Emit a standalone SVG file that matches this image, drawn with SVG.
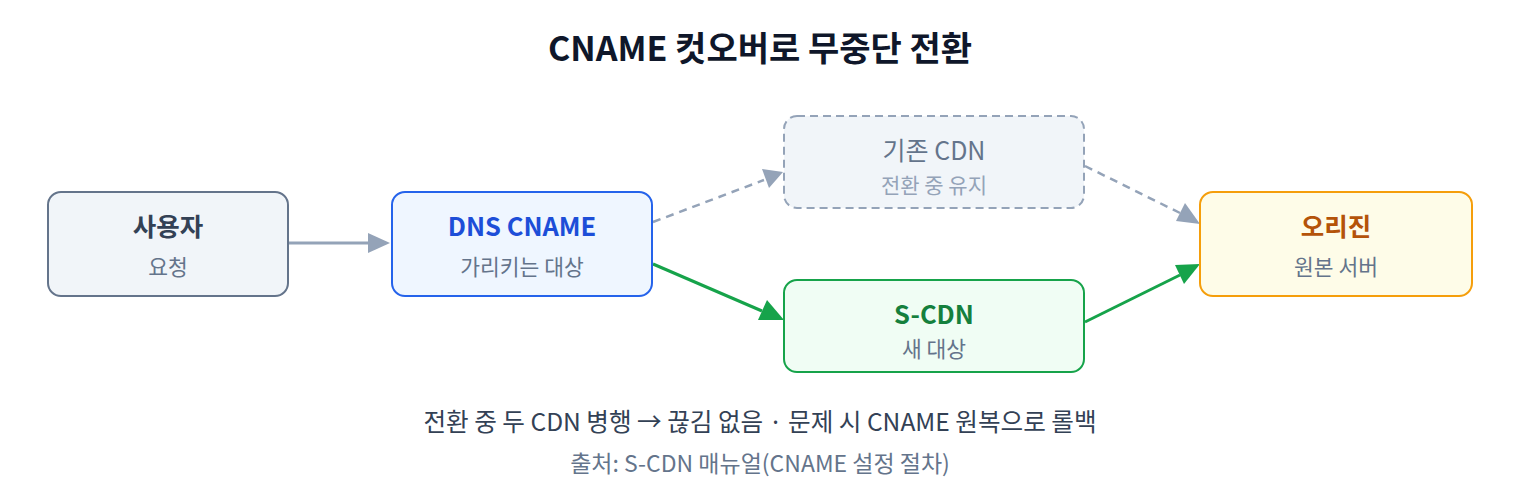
<svg xmlns="http://www.w3.org/2000/svg" width="1520" height="500" viewBox="0 0 1520 500">
<style>
text{font-family:"Noto Sans CJK KR","Noto Sans",sans-serif;text-anchor:middle}
.t{font-size:25.5px;font-weight:700}
.s{font-size:21.5px;fill:#64748b}
.box{stroke-width:2}
.gray{stroke:#94a3b8;stroke-width:3;fill:none}
.dash{stroke:#94a3b8;stroke-width:2.5;fill:none;stroke-dasharray:8 6}
.green{stroke:#16a34a;stroke-width:3;fill:none}
</style>
<rect width="1520" height="500" fill="#ffffff"/>
<text x="760" y="61" style="font-size:34px;font-weight:700;fill:#0f172a">CNAME 컷오버로 무중단 전환</text>
<g id="connectors">
<line x1="289" y1="243" x2="368" y2="243" class="gray"/>
<path d="M368,233L390,243L368,253z" fill="#94a3b8"/>
<line x1="653" y1="222" x2="764" y2="180" class="dash"/>
<path d="M762,169L783,172L769,188z" fill="#94a3b8"/>
<line x1="1085" y1="166" x2="1180" y2="213" class="dash"/>
<path d="M1185,203L1200,224L1176,221z" fill="#94a3b8"/>
<line x1="653" y1="264" x2="762" y2="311" class="green"/>
<path d="M767,300L784,320L758,320z" fill="#16a34a"/>
<line x1="1085" y1="322" x2="1180" y2="275" class="green"/>
<path d="M1175,265L1200,264L1184,284z" fill="#16a34a"/>
</g>
<g id="user">
<rect x="48" y="192" width="240" height="104" rx="13" fill="#f1f5f9" stroke="#64748b" class="box"/>
<text x="168" y="236" class="t" fill="#334155">사용자</text>
<text x="168" y="275" class="s">요청</text>
</g>
<g id="dns">
<rect x="392" y="192" width="260" height="104" rx="13" fill="#eff6ff" stroke="#2563eb" class="box"/>
<text x="522" y="236" class="t" fill="#1d4ed8">DNS CNAME</text>
<text x="522" y="275" class="s">가리키는 대상</text>
</g>
<g id="oldcdn">
<rect x="784" y="116" width="300" height="92" rx="13" fill="#f1f5f9" stroke="#94a3b8" stroke-width="2" stroke-dasharray="8 5"/>
<text x="934" y="160" style="font-size:25px" fill="#64748b">기존 CDN</text>
<text x="934" y="193" style="font-size:21px;fill:#94a3b8">전환 중 유지</text>
</g>
<g id="scdn">
<rect x="784" y="280" width="300" height="92" rx="13" fill="#f0fdf4" stroke="#16a34a" class="box"/>
<text x="934" y="324" class="t" fill="#15803d">S-CDN</text>
<text x="934" y="357" class="s">새 대상</text>
</g>
<g id="origin">
<rect x="1200" y="192" width="272" height="104" rx="13" fill="#fefce8" stroke="#f59e0b" class="box"/>
<text x="1336" y="236" class="t" fill="#b45309">오리진</text>
<text x="1336" y="275" class="s">원본 서버</text>
</g>
<text x="760" y="431" style="font-size:24.6px" fill="#334155">전환 중 두 CDN 병행 → 끊김 없음 · 문제 시 CNAME 원복으로 롤백</text>
<text x="760" y="472" style="font-size:23px" fill="#64748b">출처: S-CDN 매뉴얼(CNAME 설정 절차)</text>
</svg>
